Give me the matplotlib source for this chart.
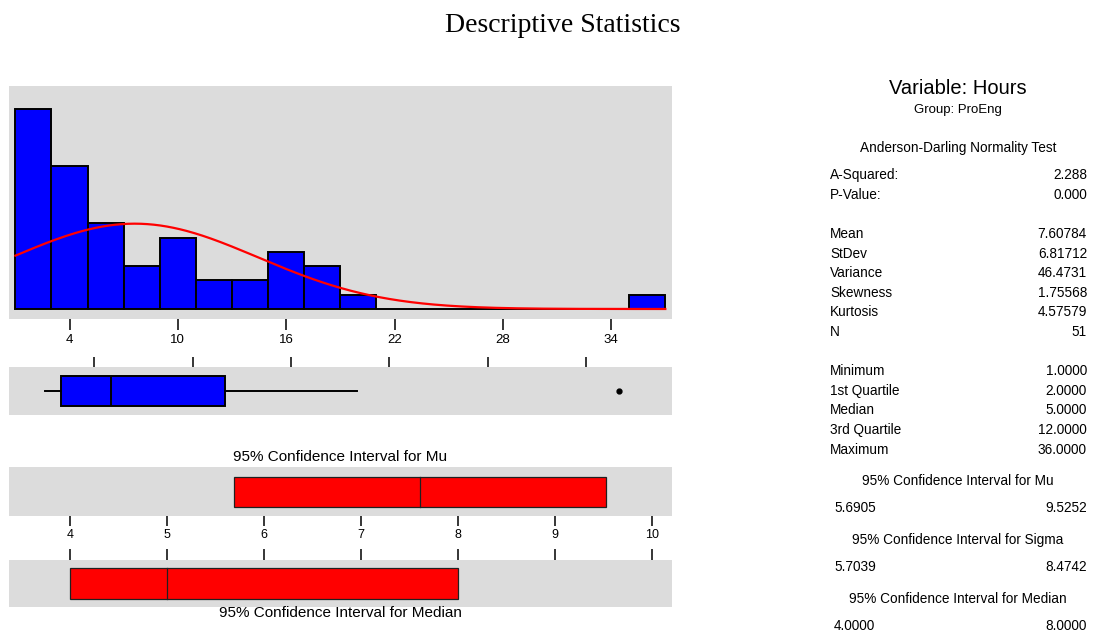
import numpy as np
import matplotlib
matplotlib.use("Agg")
import matplotlib.pyplot as plt

# ---- data ----
bin_mids = [2, 4, 6, 8, 10, 12, 14, 16, 18, 20, 22, 24, 26, 28, 30, 32, 34, 36]
bin_counts = [14, 10, 6, 3, 5, 2, 2, 4, 3, 1, 0, 0, 0, 0, 0, 0, 0, 1]
bin_width = 2
hist_ticks = [4, 10, 16, 22, 28, 34]

mean_val = 7.60784
sd_val = 6.81712
n_obs = 51

box_min = 1.0
box_q1 = 2.0
box_median = 5.0
box_q3 = 12.0
box_whisker_hi = 20.0
box_outliers = [36.0]

ci_mu = [5.6905, 9.5252]
ci_median = [4.0, 8.0]
ci_ticks = [4, 5, 6, 7, 8, 9, 10]

stat_rows = [
    ("A-Squared:", "2.288"), ("P-Value:", "0.000"),
    ("Mean", "7.60784"), ("StDev", "6.81712"), ("Variance", "46.4731"),
    ("Skewness", "1.75568"), ("Kurtosis", "4.57579"), ("N", "51"),
    ("Minimum", "1.0000"), ("1st Quartile", "2.0000"), ("Median", "5.0000"),
    ("3rd Quartile", "12.0000"), ("Maximum", "36.0000"),
]
ci_rows = [
    ("95% Confidence Interval for Mu", "5.6905", "9.5252"),
    ("95% Confidence Interval for Sigma", "5.7039", "8.4742"),
    ("95% Confidence Interval for Median", "4.0000", "8.0000"),
]

# ---- layout helpers (pixel coordinates, origin top-left) ----
W, H = 1120, 633
fig = plt.figure(figsize=(W / 100, H / 100), dpi=100)
fig.patch.set_facecolor("white")
plt.rcParams["font.family"] = ["Liberation Sans", "DejaVu Sans"]

PANEL = "#DCDCDC"


def add_panel(x0, x1, y0, y1):
    ax = fig.add_axes([x0 / W, 1 - y1 / H, (x1 - x0) / W, (y1 - y0) / H])
    ax.set_facecolor(PANEL)
    for s in ax.spines.values():
        s.set_visible(False)
    ax.set_yticks([])
    return ax


def ftext(x, y, s, **kw):
    fig.text(x / W, 1 - y / H, s, **kw)


# ---- title ----
ftext(563, 26, "Descriptive Statistics", ha="center", va="center",
      fontsize=20, family="Liberation Serif")

# ---- histogram with fitted normal curve ----
ax_h = add_panel(8.7, 672, 86, 319)
ax_h.bar(bin_mids, bin_counts, width=bin_width, color="#0000FF",
         edgecolor="black", linewidth=1.4, zorder=2)
xs = np.linspace(bin_mids[0] - bin_width / 2, bin_mids[-1] + bin_width / 2, 400)
pdf = n_obs * bin_width * np.exp(-0.5 * ((xs - mean_val) / sd_val) ** 2) / (sd_val * np.sqrt(2 * np.pi))
ax_h.plot(xs, pdf, color="#FF0000", linewidth=1.6, zorder=3)
ax_h.set_xlim(0.63, 37.37)
ax_h.set_ylim(-0.70, 15.6)
ax_h.set_xticks(hist_ticks)
ax_h.set_xticklabels([str(t) for t in hist_ticks])
ax_h.tick_params(axis="x", direction="out", length=8, width=1.1, labelsize=9.5, pad=2.5)

# ---- boxplot ----
ax_b = add_panel(8.7, 672, 367, 415)
stats = [dict(med=box_median, q1=box_q1, q3=box_q3, whislo=box_min,
              whishi=box_whisker_hi, fliers=box_outliers)]
ax_b.bxp(stats, positions=[0.5], widths=0.625, orientation="horizontal",
         patch_artist=True, showcaps=False,
         boxprops=dict(facecolor="#0000FF", edgecolor="black", linewidth=1.4),
         medianprops=dict(color="black", linewidth=1.4),
         whiskerprops=dict(color="black", linewidth=1.4),
         flierprops=dict(marker="o", markerfacecolor="black", markeredgecolor="black",
                         markersize=3.5))
ax_b.set_ylim(0, 1)
ax_b.set_xlim(-1.21, 39.23)
ax_b.set_yticks([])
ax_b.set_xticks(hist_ticks)
ax_b.xaxis.set_ticks_position("top")
ax_b.tick_params(axis="x", direction="out", length=7.2, width=1.1,
                 labeltop=False, labelbottom=False)

# ---- confidence interval for mu ----
ax_mu = add_panel(8.7, 672, 467, 516)
ax_mu.barh(0.5, ci_mu[1] - ci_mu[0], left=ci_mu[0], height=30 / 49,
           color="#FF0000", edgecolor="#202020", linewidth=0.9)
ax_mu.plot([mean_val, mean_val], [0.5 - 15 / 49, 0.5 + 15 / 49], color="#202020", linewidth=0.9)
ax_mu.set_ylim(0, 1)
ax_mu.set_xlim(3.37, 10.21)
ax_mu.set_xticks(ci_ticks)
ax_mu.set_xticklabels([str(t) for t in ci_ticks])
ax_mu.tick_params(axis="x", direction="out", length=7.2, width=1.1, labelsize=9, pad=2)
ftext(340, 457, "95% Confidence Interval for Mu", ha="center", va="center", fontsize=11)

# ---- confidence interval for median ----
ax_md = add_panel(8.7, 672, 560, 607)
ax_md.barh(0.5, ci_median[1] - ci_median[0], left=ci_median[0], height=31 / 47,
           color="#FF0000", edgecolor="#202020", linewidth=0.9)
ax_md.plot([box_median, box_median], [0.5 - 15.5 / 47, 0.5 + 15.5 / 47], color="#202020", linewidth=0.9)
ax_md.set_ylim(0, 1)
ax_md.set_xlim(3.37, 10.21)
ax_md.set_xticks(ci_ticks)
ax_md.xaxis.set_ticks_position("top")
ax_md.tick_params(axis="x", direction="out", length=7.6, width=1.1,
                  labeltop=False, labelbottom=False)
ftext(340, 613, "95% Confidence Interval for Median", ha="center", va="center", fontsize=11)

# ---- summary panel ----
ftext(958, 88, "Variable: Hours", ha="center", va="center", fontsize=14.5)
ftext(958, 110, "Group: ProEng", ha="center", va="center", fontsize=9.5)
ftext(958, 148, "Anderson-Darling Normality Test", ha="center", va="center", fontsize=9.8)

row_y = [175, 195, 234, 254, 273, 293, 312, 332, 371, 391, 410, 430, 450]
for (lab, val), y in zip(stat_rows, row_y):
    ftext(830, y, lab, ha="left", va="center", fontsize=9.8)
    ftext(1087, y, val, ha="right", va="center", fontsize=9.8)

ci_title_y = [481, 540, 599]
for (title, lo, hi), y in zip(ci_rows, ci_title_y):
    ftext(958, y, title, ha="center", va="center", fontsize=9.8)
    ftext(834, y + 27, lo, ha="left", va="center", fontsize=9.8)
    ftext(1087, y + 27, hi, ha="right", va="center", fontsize=9.8)

fig.savefig("out.png", dpi=100, facecolor="white")
